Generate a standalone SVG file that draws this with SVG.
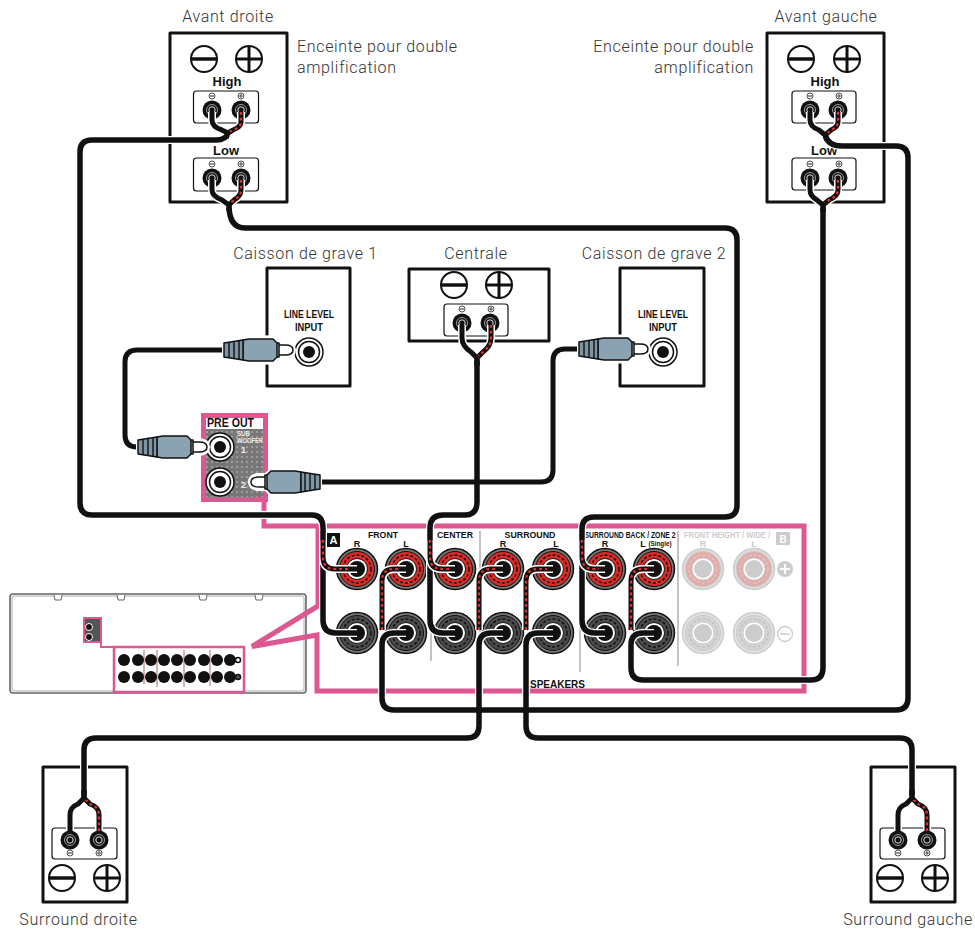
<svg xmlns="http://www.w3.org/2000/svg" width="975" height="929" viewBox="0 0 975 929">
<style>
text{font-family:"Liberation Sans",Arial,sans-serif}
.lab{font-family:Roboto,"Liberation Sans",sans-serif;font-weight:300;font-size:16px;fill:#333;letter-spacing:.66px}
.hd{font-weight:700;font-size:13px;fill:#111;text-anchor:middle}
.rc{font-weight:700;font-size:9px;fill:#111;text-anchor:middle}
.pale{fill:#ccc}
.nar{font-family:"Liberation Sans Narrow","Liberation Sans",sans-serif;font-weight:700;font-size:11px;fill:#111;text-anchor:middle}
.box{fill:#fff;stroke:#111;stroke-width:3;stroke-linejoin:round}
.pan{fill:#fff;stroke:#111;stroke-width:1.2}
.pink{fill:none;stroke:#dd5791;stroke-width:5}
.sep{stroke:#888;stroke-width:1;fill:none}
.h{fill:none;stroke:#fff;stroke-width:8;stroke-linejoin:round}
.b{fill:none;stroke:#111;stroke-width:5.5;stroke-linejoin:round}
.t{fill:none;stroke:#111;stroke-width:5}
.r{fill:none;stroke:#ec2f2a;stroke-width:2.2;stroke-dasharray:2.8 3}
.tip{stroke:#111;stroke-width:1.5;stroke-linejoin:round}
</style>
<defs>
<pattern id="dots" width="5" height="5" patternUnits="userSpaceOnUse"><rect width="5" height="5" fill="#777"/><circle cx="2" cy="2" r=".7" fill="#ddd"/></pattern>
<g id="minus"><circle r="13" fill="#fff" stroke="#111" stroke-width="2"/><path d="M-12 0H12" stroke="#111" stroke-width="3.5"/></g>
<g id="plus"><circle r="13" fill="#fff" stroke="#111" stroke-width="2"/><path d="M-12 0H12M0-12V12" stroke="#111" stroke-width="3"/></g>
<g id="mn"><circle r="3" fill="#fff" stroke="#222" stroke-width=".8"/><path d="M-2 0H2" stroke="#222"/></g>
<g id="pl"><circle r="3" fill="#fff" stroke="#222" stroke-width=".8"/><path d="M-2 0H2M0-2V2" stroke="#222" stroke-width=".8"/></g>
<g id="post"><circle r="9.5" fill="#111"/><circle r="5.5" fill="none" stroke="#999" stroke-width="1"/><circle r="3.2" fill="none" stroke="#ddd" stroke-width="1"/><circle r="1.4" fill="#111"/></g>
<g id="recR"><circle r="20.500" fill="#777" stroke="#111" stroke-width="1.500"/><circle r="17.500" fill="#dd2b26" stroke="#111" stroke-width="1"/><circle r="14" fill="none" stroke="#111" stroke-width="1.500" stroke-dasharray="3 2"/><circle r="10.500" fill="#fff" stroke="#111" stroke-width="1"/><circle r="8" fill="#111"/></g>
<g id="recG"><circle r="20.500" fill="#777" stroke="#111" stroke-width="1.500"/><circle r="17.500" fill="#4b4b4b" stroke="#111" stroke-width="1"/><circle r="14" fill="none" stroke="#111" stroke-width="1.500" stroke-dasharray="3 2"/><circle r="10.500" fill="#fff" stroke="#111" stroke-width="1"/><circle r="8" fill="#111"/></g>
<g id="palR"><circle r="20.500" fill="#ddd" stroke="#ccc" stroke-width="1.500"/><circle r="17.500" fill="#e6aaa6" stroke="#c8c8c8"/><circle r="14" fill="none" stroke="#ccc" stroke-width="1.500" stroke-dasharray="3 2"/><circle r="11" fill="#fff" stroke="#ccc"/><circle r="9" fill="#ccc"/></g>
<g id="palG"><circle r="20.500" fill="#e2e2e2" stroke="#ccc" stroke-width="1.500"/><circle r="17.500" fill="#d4d4d4" stroke="#ccc"/><circle r="14" fill="none" stroke="#c2c2c2" stroke-width="1.500" stroke-dasharray="3 2"/><circle r="11" fill="#fff" stroke="#ccc"/><circle r="9" fill="#ccc"/></g>
<g id="jack"><circle r="14" fill="#fff" stroke="#111" stroke-width="1.500"/><circle r="10.500" fill="#fff" stroke="#111" stroke-width="1.500"/><circle r="6" fill="#111"/></g>
<g id="rca"><path d="M-1 -10L20 -13L50 -15L56 -9H63Q73 -8 73 0Q73 8 63 9H56L50 15L20 13L-1 10Z" fill="#fff"/><path class="tip" d="M55 -5H62Q70 -5 70 0Q70 5 62 5H55Z" fill="#fff"/><rect class="tip" x="49" y="-7" width="7" height="14" fill="#ddd"/><path class="tip" d="M20 -10L26 -11H50L54 -7V7L50 11H26L20 10Z" fill="#8aa2b1"/><path class="tip" d="M1 -7L20 -10V10L1 7Z" fill="#7d95a5"/><path d="M6-8V8M11-9V9M16-9V9" stroke="#111" stroke-width="1.400"/></g>
</defs>
<g id="rear-unit">
<rect x="10" y="594" width="296" height="99" rx="3" fill="#fff" stroke="#666" stroke-width="1.600"/>
<rect x="12" y="596" width="292" height="95" rx="2" fill="none" stroke="#aaa" stroke-width="1"/>
<path d="M54 595l1 5h6l1-5M117 595l1 5h6l1-5M199 595l1 5h6l1-5M255 595l1 5h6l1-5" fill="#fff" stroke="#666"/>
<rect x="84" y="618" width="17" height="24" fill="#555" stroke="#dd5791" stroke-width="2"/>
<circle cx="89" cy="627" r="3.500" fill="#111" stroke="#fff" stroke-width="1"/><circle cx="89" cy="637" r="3.500" fill="#111" stroke="#fff" stroke-width="1"/>
<path d="M101 642V647H114" fill="none" stroke="#dd5791" stroke-width="2"/>
<rect x="114" y="647" width="130" height="45" fill="#fff" stroke="#dd5791" stroke-width="2.500"/>
<path d="M144 650V684M157 650V687M184 650V687M210 650V686" stroke="#a66" stroke-width="1"/>
<g fill="#111"><circle cx="124" cy="660" r="6"/><circle cx="138" cy="660" r="6"/><circle cx="151" cy="660" r="6"/><circle cx="164" cy="660" r="6"/><circle cx="177" cy="660" r="6"/><circle cx="190" cy="660" r="6"/><circle cx="204" cy="660" r="6"/><circle cx="217" cy="660" r="6"/><circle cx="230" cy="660" r="6"/><circle cx="124" cy="677" r="6"/><circle cx="138" cy="677" r="6"/><circle cx="151" cy="677" r="6"/><circle cx="164" cy="677" r="6"/><circle cx="177" cy="677" r="6"/><circle cx="190" cy="677" r="6"/><circle cx="204" cy="677" r="6"/><circle cx="217" cy="677" r="6"/><circle cx="230" cy="677" r="6"/></g>
<circle cx="238" cy="660" r="2.500" fill="#fff" stroke="#111" stroke-width="1.500"/><circle cx="238" cy="677" r="2.500" fill="#555" stroke="#111" stroke-width="1.500"/>
</g>
<g id="receiver-panel">
<path class="pink" d="M264 502V526H804V691H317V635L252 646.500L318 606V526"/>
<path class="sep" d="M431 531V661M480 531V661M580 531V672M678 531V666"/>
<rect x="327" y="533" width="13" height="14" fill="#111"/><text x="333.500" y="544" font-size="11" font-weight="700" fill="#fff" text-anchor="middle">A</text>
<text class="rc" x="383" y="538" textLength="30" lengthAdjust="spacingAndGlyphs">FRONT</text><text class="rc" x="357" y="547">R</text><text class="rc" x="406" y="547">L</text>
<text class="rc" x="455" y="538" textLength="36" lengthAdjust="spacingAndGlyphs">CENTER</text>
<text class="rc" x="530" y="538" textLength="51" lengthAdjust="spacingAndGlyphs">SURROUND</text><text class="rc" x="503" y="547">R</text><text class="rc" x="556" y="547">L</text>
<text class="rc" x="630" y="538" textLength="91" lengthAdjust="spacingAndGlyphs">SURROUND BACK / ZONE 2</text><text class="rc" x="605" y="547">R</text><text class="rc" x="643" y="547">L</text>
<text x="660" y="546" font-size="6.500" font-weight="700" fill="#111" text-anchor="middle" textLength="23" lengthAdjust="spacingAndGlyphs">(Single)</text>
<text class="rc pale" x="727" y="537.500" font-size="8.500" textLength="86" lengthAdjust="spacingAndGlyphs">FRONT HEIGHT / WIDE /</text><text class="rc pale" x="703" y="547">R</text><text class="rc pale" x="754" y="547">L</text>
<rect x="776" y="532" width="14" height="13" fill="#ccc"/><text x="783" y="543" font-size="10" font-weight="700" fill="#fff" text-anchor="middle">B</text>
<use href="#recR" x="357" y="569"/><use href="#recR" x="406" y="569"/><use href="#recR" x="455" y="569"/><use href="#recR" x="503" y="569"/><use href="#recR" x="553" y="569"/><use href="#recR" x="605" y="569"/><use href="#recR" x="654" y="569"/><use href="#palR" x="703" y="569"/><use href="#palR" x="754" y="569"/>
<use href="#recG" x="357" y="633"/><use href="#recG" x="406" y="633"/><use href="#recG" x="455" y="633"/><use href="#recG" x="503" y="633"/><use href="#recG" x="553" y="633"/><use href="#recG" x="605" y="633"/><use href="#recG" x="654" y="633"/><use href="#palG" x="703" y="633"/><use href="#palG" x="754" y="633"/>
<circle cx="785" cy="569" r="8" fill="#ccc"/><path d="M780 569H790M785 564V574" stroke="#fff" stroke-width="2"/>
<circle cx="785" cy="634" r="7.500" fill="#fff" stroke="#ccc" stroke-width="1.300"/><path d="M780 634H790" stroke="#ccc" stroke-width="1.500"/>
<text x="530" y="688" font-size="11" font-weight="700" fill="#111" textLength="55" lengthAdjust="spacingAndGlyphs">SPEAKERS</text>
</g>
<g id="pre-out">
<rect x="203.500" y="415.500" width="62" height="84" fill="#fff" stroke="#dd5791" stroke-width="5"/>
<rect x="206" y="429" width="57" height="68" fill="url(#dots)"/>
<text x="207" y="427" font-size="12" font-weight="700" fill="#111" textLength="47" lengthAdjust="spacingAndGlyphs">PRE OUT</text>
<text x="237" y="436" font-size="7" font-weight="700" fill="#eee" textLength="13" lengthAdjust="spacingAndGlyphs">SUB</text>
<text x="237" y="443" font-size="7" font-weight="700" fill="#eee" textLength="26" lengthAdjust="spacingAndGlyphs">WOOFER</text>
<text x="241" y="453" font-size="9" font-weight="700" fill="#eee">1</text><text x="241" y="488" font-size="9" font-weight="700" fill="#eee">2</text>
<use href="#jack" x="220" y="447"/><use href="#jack" x="220" y="482"/>
</g>
<g id="speaker-fr">
<rect class="box" x="170" y="33" width="117" height="169"/>
<use href="#minus" x="204" y="59"/><use href="#plus" x="249" y="59"/>
<text class="hd" x="227" y="86">High</text><text class="hd" x="226" y="155">Low</text>
<rect class="pan" x="193.500" y="91" width="65" height="32" rx="3"/><rect class="pan" x="193.500" y="158" width="65" height="33" rx="3"/>
<use href="#mn" x="212" y="96"/><use href="#pl" x="241" y="96"/><use href="#mn" x="212" y="164"/><use href="#pl" x="241" y="164"/>
<use href="#post" x="212" y="110"/><use href="#post" x="241" y="110"/><use href="#post" x="212" y="178"/><use href="#post" x="241" y="178"/>
</g>
<g id="speaker-fl">
<rect class="box" x="767" y="33" width="117" height="169"/>
<use href="#minus" x="801" y="59"/><use href="#plus" x="847" y="59"/>
<text class="hd" x="825" y="86">High</text><text class="hd" x="824" y="155">Low</text>
<rect class="pan" x="792" y="91" width="64" height="32" rx="3"/><rect class="pan" x="792" y="158" width="64" height="32" rx="3"/>
<use href="#mn" x="810" y="96"/><use href="#pl" x="839" y="96"/><use href="#mn" x="810" y="164"/><use href="#pl" x="839" y="164"/>
<use href="#post" x="810" y="110"/><use href="#post" x="838" y="110"/><use href="#post" x="810" y="178"/><use href="#post" x="838" y="178"/>
</g>
<g id="speaker-center">
<rect class="box" x="409" y="269" width="140" height="72"/>
<use href="#minus" x="454" y="285"/><use href="#plus" x="499" y="285"/>
<rect class="pan" x="444" y="304" width="64" height="32" rx="3"/>
<use href="#mn" x="462" y="309"/><use href="#pl" x="491" y="309"/>
<use href="#post" x="462" y="323"/><use href="#post" x="490" y="323"/>
</g>
<g id="sub-1">
<rect class="box" x="267" y="268" width="83" height="118"/>
<text class="nar" x="309" y="318" textLength="50" lengthAdjust="spacingAndGlyphs">LINE LEVEL</text><text class="nar" x="309" y="331" textLength="28" lengthAdjust="spacingAndGlyphs">INPUT</text>
<use href="#jack" x="309" y="352"/>
</g>
<g id="sub-2">
<rect class="box" x="620" y="268" width="84" height="118"/>
<text class="nar" x="663" y="318" textLength="50" lengthAdjust="spacingAndGlyphs">LINE LEVEL</text><text class="nar" x="663" y="331" textLength="28" lengthAdjust="spacingAndGlyphs">INPUT</text>
<use href="#jack" x="663" y="352"/>
</g>
<g id="speaker-sr">
<rect class="box" x="43" y="767" width="84" height="135"/>
<rect class="pan" x="52" y="828" width="65" height="31" rx="3"/>
<use href="#post" x="70" y="840"/><use href="#post" x="99" y="840"/><use href="#mn" x="70" y="853"/><use href="#pl" x="99" y="853"/>
<use href="#minus" x="62" y="878"/><use href="#plus" x="107" y="878"/>
</g>
<g id="speaker-sl">
<rect class="box" x="871" y="767" width="84" height="135"/>
<rect class="pan" x="880" y="828" width="65" height="31" rx="3"/>
<use href="#post" x="898" y="840"/><use href="#post" x="927" y="840"/><use href="#mn" x="898" y="853"/><use href="#pl" x="927" y="853"/>
<use href="#minus" x="890" y="878"/><use href="#plus" x="935" y="878"/>
</g>
<g id="labels">
<text class="lab" x="228" y="21.500" text-anchor="middle">Avant droite</text>
<text class="lab" x="297" y="51.500">Enceinte pour double</text><text class="lab" x="297" y="73">amplification</text>
<text class="lab" x="826" y="21.500" text-anchor="middle">Avant gauche</text>
<text class="lab" x="754" y="51.500" text-anchor="end">Enceinte pour double</text><text class="lab" x="754" y="73" text-anchor="end">amplification</text>
<text class="lab" x="305.500" y="259" text-anchor="middle">Caisson de grave 1</text>
<text class="lab" x="476" y="259" text-anchor="middle">Centrale</text>
<text class="lab" x="654" y="259" text-anchor="middle">Caisson de grave 2</text>
<text class="lab" x="78.500" y="925" text-anchor="middle">Surround droite</text>
<text class="lab" x="908" y="925" text-anchor="middle">Surround gauche</text>
</g>
<g id="connectors">
<g id="cable-long-halos">
<path class="h" d="M228 133Q226 140 216 140H92Q80 140 80 152V503Q80 515 92 515H312Q323 515 323 528V620Q323 633 336 633H357"/>
<path class="h" d="M229 205Q229 228 245 228H725Q737 228 737 240V505Q737 517 725 517H594Q582 517 582 529V620Q582 633 595 633H605"/>
<path class="h" d="M825 135Q828 146 842 146H896Q908 146 908 158V698Q908 710 896 710H394Q382 710 382 698V645Q382 633 394 633H406"/>
<path class="h" d="M823 205V668Q823 680 811 680H643Q631 680 631 668V645Q631 633 643 633H654"/>
<path class="h" d="M477 358V502Q477 515 465 515H443Q430 515 430 528V620Q430 633 443 633H455"/>
<path class="h" d="M84 798V750Q84 738 96 738H467Q479 738 479 726V645Q479 633 491 633H503"/>
<path class="h" d="M912 798V750Q912 738 900 738H538Q526 738 526 726V645Q526 633 538 633H553"/>
</g>
<path class="b" d="M228 133Q226 140 216 140H92Q80 140 80 152V503Q80 515 92 515H312Q323 515 323 528V620Q323 633 336 633H357"/>
<path class="b" d="M229 205Q229 228 245 228H725Q737 228 737 240V505Q737 517 725 517H594Q582 517 582 529V620Q582 633 595 633H605"/>
<path class="b" d="M825 135Q828 146 842 146H896Q908 146 908 158V698Q908 710 896 710H394Q382 710 382 698V645Q382 633 394 633H406"/>
<path class="b" d="M823 205V668Q823 680 811 680H643Q631 680 631 668V645Q631 633 643 633H654"/>
<path class="b" d="M477 358V502Q477 515 465 515H443Q430 515 430 528V620Q430 633 443 633H455"/>
<path class="b" d="M84 798V750Q84 738 96 738H467Q479 738 479 726V645Q479 633 491 633H503"/>
<path class="b" d="M912 798V750Q912 738 900 738H538Q526 738 526 726V645Q526 633 538 633H553"/>
<g id="receiver-plus-leads">
<path class="h" d="M323 540V557Q323 569 335 569H357M382 630V581Q382 569 394 569H406M430 540V557Q430 569 442 569H455M479 630V581Q479 569 491 569H503M526 630V581Q526 569 538 569H553M582 540V557Q582 569 594 569H605M631 630V581Q631 569 643 569H654"/>
<path class="t" d="M323 540V557Q323 569 335 569H357M382 630V581Q382 569 394 569H406M430 540V557Q430 569 442 569H455M479 630V581Q479 569 491 569H503M526 630V581Q526 569 538 569H553M582 540V557Q582 569 594 569H605M631 630V581Q631 569 643 569H654"/>
<path class="r" d="M323 540V557Q323 569 335 569H350M382 630V581Q382 569 394 569H400M430 540V557Q430 569 442 569H449M479 630V581Q479 569 491 569H497M526 630V581Q526 569 538 569H547M582 540V557Q582 569 594 569H599M631 630V581Q631 569 643 569H648"/>
</g>
<g id="speaker-splits">
<path class="h" d="M212 112V120Q212 127 222 130L228 133M212 180V190Q212 196 222 200L229 205M810 112V120Q810 127 819 130L825 135M810 180V190Q810 196 817 200L823 205M462 325V338Q462 346 471 352L477 358M70 831V815Q70 807 78 804L84 798M898 831V815Q898 807 906 804L912 798"/>
<path class="h" d="M241 112V122Q241 127 233 130L228 133M241 180V190Q241 196 234 200L229 205M838 112V122Q838 127 831 130L825 135M838 180V190Q838 196 829 200L823 205M491 325V338Q491 346 483 352L477 358M99 831V815Q99 807 90 804L84 798M927 831V815Q927 807 918 804L912 798"/>
<path class="t" d="M212 112V120Q212 127 222 130L228 133M212 180V190Q212 196 222 200L229 205M810 112V120Q810 127 819 130L825 135M810 180V190Q810 196 817 200L823 205M462 325V338Q462 346 471 352L477 358M70 831V815Q70 807 78 804L84 798M898 831V815Q898 807 906 804L912 798"/>
<path class="t" d="M241 112V122Q241 127 233 130L228 133M241 180V190Q241 196 234 200L229 205M838 112V122Q838 127 831 130L825 135M838 180V190Q838 196 829 200L823 205M491 325V338Q491 346 483 352L477 358M99 831V815Q99 807 90 804L84 798M927 831V815Q927 807 918 804L912 798"/>
<path class="r" d="M241 112V122Q241 127 233 130L228 133M241 180V190Q241 196 234 200L229 205M838 112V122Q838 127 831 130L825 135M838 180V190Q838 196 829 200L823 205M491 325V338Q491 346 483 352L477 358M99 831V815Q99 807 90 804L84 798M927 831V815Q927 807 918 804L912 798"/>
<path class="b" d="M229 203V211M823 203V212M477 356V366M84 800V790M912 800V790M228 131L226 138M825 133L827 140"/>
</g>
<path class="t" d="M223 350H137Q125 350 125 362V435Q125 447 137 447"/>
<path class="t" d="M321 482H541Q553 482 553 470V361Q553 349 565 349H578"/>
<use href="#rca" transform="translate(223,350)"/>
<use href="#rca" transform="translate(137,447)"/>
<use href="#rca" transform="translate(321,482) scale(-1,1)"/>
<use href="#rca" transform="translate(578,349)"/>
</g>
</svg>
